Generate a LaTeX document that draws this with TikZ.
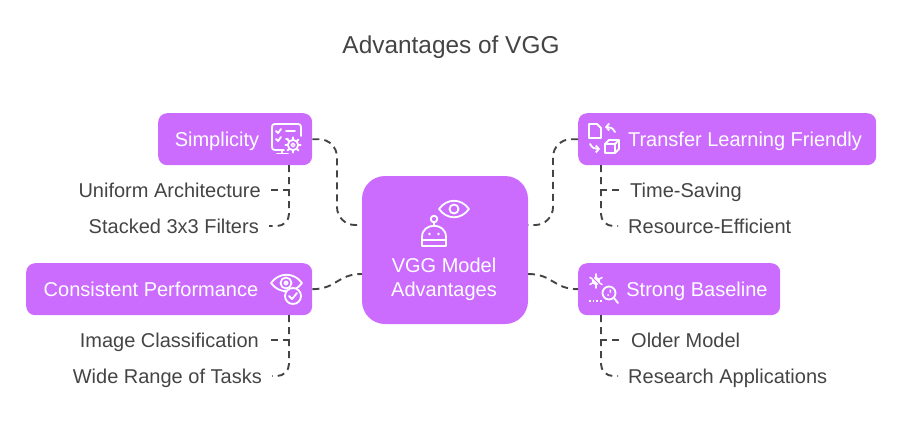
\documentclass[tikz,border=0pt]{standalone}
\usepackage{fontspec}
\setmainfont{Liberation Sans}
\usepackage{tikz}
\usetikzlibrary{arrows.meta}
\definecolor{boxpurple}{HTML}{CC6CFF}
\definecolor{inkgrey}{HTML}{444444}

\begin{document}
\begin{tikzpicture}[
    x=1pt,
    y=-1pt,
    every node/.style={font=\fontsize{20}{24}\selectfont},
    topic/.style={fill=boxpurple, rounded corners=9pt, text=white, anchor=north west, inner sep=0pt},
    hub/.style={fill=boxpurple, rounded corners=23pt, minimum width=166pt, minimum height=148pt, inner sep=0pt},
    boxlabel/.style={text=white, inner sep=0pt, align=center},
    oneline/.style={text height=16pt, text depth=2pt},
    leaf/.style={oneline, text=inkgrey, inner xsep=10pt, inner ysep=0pt},
    link/.style={draw=inkgrey, line width=1.9pt, dash pattern=on 7pt off 5pt},
    icon/.style={draw=white, line width=1.8pt, line cap=round, line join=round},
    iconcut/.style={icon, fill=boxpurple}
  ]
    \useasboundingbox (0,0) rectangle (902,437);
    \node[oneline, text=inkgrey, font=\fontsize{24.4}{28}\selectfont] (title) at (451,46.5) {Advantages of VGG};

    % centre box and the four topic boxes
    \node[hub] (core) at (445,250) {};
    \node[boxlabel] (corelabel) at (444,279.5) {VGG Model\\[0pt]Advantages};
    \node[topic, minimum width=154pt, minimum height=52pt] (simplicity) at (158,113) {};
    \node[topic, minimum width=286pt, minimum height=52pt] (consistent) at (26,263) {};
    \node[topic, minimum width=298pt, minimum height=52pt] (transfer) at (578,113) {};
    \node[topic, minimum width=202pt, minimum height=52pt] (baseline) at (578,263) {};

    \node[boxlabel, oneline] (simplicitylabel) at (217,139) {Simplicity};
    \node[boxlabel, oneline] (consistentlabel) at (151,289) {Consistent Performance};
    \node[boxlabel, oneline] (transferlabel) at (745,139) {Transfer Learning Friendly};
    \node[boxlabel, oneline] (baselinelabel) at (697,289) {Strong Baseline};

    % items below the topics
    \node[leaf, anchor=east] (uniform) at (271,190) {Uniform Architecture};
    \node[leaf, anchor=east] (stacked) at (269,226) {Stacked 3x3 Filters};
    \node[leaf, anchor=east] (image) at (269,340) {Image Classification};
    \node[leaf, anchor=east] (wide) at (272,376) {Wide Range of Tasks};
    \node[leaf, anchor=west] (saving) at (620,190) {Time-Saving};
    \node[leaf, anchor=west] (resource) at (618,226) {Resource-Efficient};
    \node[leaf, anchor=west] (older) at (621,340) {Older Model};
    \node[leaf, anchor=west] (research) at (618,376) {Research Applications};

    % connectors into the centre box
    \coordinate (coreNW) at (362,225);
    \coordinate (coreNE) at (528,225);
    \coordinate (coreSW) at (362,274);
    \coordinate (coreSE) at (528,274);
    \coordinate (bendNW) at (337,225);
    \coordinate (bendNE) at (553,225);
    \draw[link, rounded corners=18pt] (simplicity.east) -| (bendNW) -- (coreNW);
    \draw[link, rounded corners=18pt] (transfer.west) -| (bendNE) -- (coreNE);
    \draw[link] (consistent.east) .. controls (337,289) and (337,274) .. (coreSW);
    \draw[link] (coreSE) .. controls (553,274) and (553,289) .. (baseline.west);

    % stems from the topics down to their items
    \coordinate (stemA) at (289,165);
    \coordinate (stemB) at (601,165);
    \coordinate (stemC) at (289,315);
    \coordinate (stemD) at (601,315);
    \draw[link] (stemA) |- (uniform.east);
    \draw[link, rounded corners=12pt] (stemA) |- (stacked.east);
    \draw[link] (stemB) |- (saving.west);
    \draw[link, rounded corners=12pt] (stemB) |- (resource.west);
    \draw[link] (stemC) |- (image.east);
    \draw[link, rounded corners=12pt] (stemC) |- (wide.east);
    \draw[link] (stemD) |- (older.west);
    \draw[link, rounded corners=12pt] (stemD) |- (research.west);

    % robot and eye
    \draw[icon] (439,209) .. controls (447,198) and (461,198) .. (469,209) .. controls (461,220) and (447,220) .. (439,209) -- cycle;
    \draw[icon] (454,209) circle (4.5);
    \draw[icon] (434,219) circle (3.3);
    \draw[icon] (434,222.5) -- (434,226);
    \draw[icon] (422,246) -- (422,237) .. controls (422,222) and (446,222) .. (446,237) -- (446,246) -- cycle;
    \draw[icon] (422,240) -- (446,240);
    \fill[white] (429.5,234) circle (1.3) (438.5,234) circle (1.3);

    % monitor with gear
    \draw[icon] (284,150) -- (275,150) .. controls (273,150) and (272,149) .. (272,147) -- (272,127) .. controls (272,125) and (273,124) .. (275,124) -- (298,124) .. controls (300,124) and (301,125) .. (301,127) -- (301,136);
    \draw[icon] (282,150) -- (282,153) (277,153.5) -- (288,153.5);
    \draw[icon] (276,131) -- (278,133) -- (281,129) (276,139) -- (278,141) -- (281,137);
    \draw[icon] (286,131) -- (295,131) (286,139) -- (288,139);
    \draw[icon] (293,145) circle (5.2);
    \foreach \a in {0,45,...,315} {
      \draw[icon] (293,145) ++(\a:5.5) -- ++(\a:2.2);
    }
    \draw[icon, line width=1.4pt] (293,145) circle (1.8);

    % documents and cube
    \draw[icon] (589,124) -- (597,124) -- (601,128) -- (601,138) -- (589,138) -- cycle;
    \draw[icon, -{Straight Barb[length=3pt,width=7pt]}] (615,132) .. controls (613,128) and (610,127) .. (605,127);
    \draw[icon, -{Straight Barb[length=3pt,width=7pt]}] (590,144) .. controls (592,148) and (595,149) .. (600,149);
    \draw[icon] (605,144) rectangle (615,153);
    \draw[icon] (605,144) -- (609,140) -- (619,140) -- (619,149) -- (615,153) (615,144) -- (619,140);

    % eye with check badge
    \draw[icon] (271,283) .. controls (279,272) and (294,272) .. (302,283) .. controls (294,294) and (279,294) .. (271,283) -- cycle;
    \draw[icon] (286,283) circle (5.5);
    \draw[icon] (286,283) circle (1.8);
    \draw[iconcut] (293,296) circle (8);
    \draw[icon] (289,296) -- (292,299) -- (297,293);

    % bug and magnifier
    \draw[icon, fill=white] (596,281) circle (3.2);
    \foreach \a in {0,60,...,300} {
      \draw[icon, line width=1.5pt] (596,281) ++(\a+30:3) -- ++(\a+30:4);
    }
    \draw[boxpurple, line width=1pt] (592,277) -- (600,285);
    \draw[icon, line cap=butt, dash pattern=on 1.8pt off 1.8pt] (589,301) -- (603,301);
    \draw[icon] (609,293) circle (6.5);
    \draw[icon] (614,298) -- (618,303);
    \fill[white] (609.5,289.5) rectangle (611,292.5) (608,295) circle (1);
  \end{tikzpicture}
\end{document}
